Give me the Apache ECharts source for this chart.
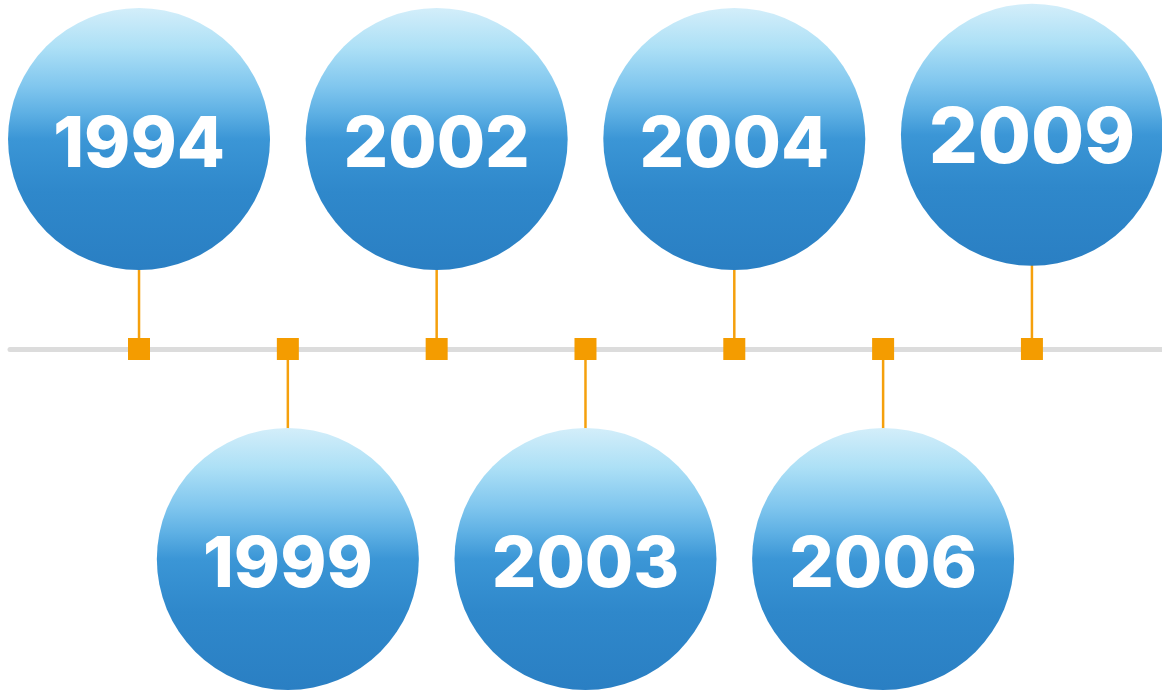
<!DOCTYPE html>
<html>
<head>
<meta charset="utf-8">
<style>
  html, body { margin: 0; padding: 0; background: #ffffff; }
  #chart { width: 1162px; height: 690px; }
</style>
<script src="https://cdn.jsdelivr.net/npm/echarts@6/dist/echarts.min.js"></script>
</head>
<body>
<div id="chart"></div>
<script>
// Timeline data
var years = ['1994', '1999', '2002', '2003', '2004', '2006', '2009'];
var steps = [0, 1, 2, 3, 4, 5, 6];           // position along the timeline
var levels = [1, -1, 1, -1, 1, -1, 1.02];     // +1 above the line, -1 below

// label style overrides (the last badge uses a slightly larger figure)
var labelOverrides = { '2009': { fontSize: 77, offset: [0, 5] } };

var chart = echarts.init(document.getElementById('chart'), null, { renderer: 'canvas' });

var circleFill = new echarts.graphic.LinearGradient(0, 0, 0, 1, [
  { offset: 0.00, color: '#d3eefa' },
  { offset: 0.15, color: '#ade0f6' },
  { offset: 0.30, color: '#80c6ee' },
  { offset: 0.40, color: '#5eb0e4' },
  { offset: 0.50, color: '#3b96d6' },
  { offset: 0.70, color: '#2f88cb' },
  { offset: 1.00, color: '#2a7fc3' }
]);

var points = steps.map(function (s, i) {
  var item = { value: [s, levels[i], years[i]] };
  if (labelOverrides[years[i]]) item.label = labelOverrides[years[i]];
  return item;
});
var anchors = steps.map(function (s) { return [s, 0]; });

var option = {
  animation: false,
  backgroundColor: '#ffffff',
  grid: { left: 10, right: 0, top: 139, bottom: 131 },
  xAxis: {
    type: 'value',
    min: -0.867,
    max: 6.874,
    axisLine: { show: true, onZero: true, lineStyle: { color: '#dcdcdc', width: 5 } },
    axisTick: { show: false },
    axisLabel: { show: false },
    splitLine: { show: false }
  },
  yAxis: {
    type: 'value',
    min: -1,
    max: 1,
    show: false,
    splitLine: { show: false }
  },
  series: [
    {
      type: 'custom',
      name: 'connectors',
      z: 2,
      clip: false,
      data: points.map(function (p) { return p.value; }),
      renderItem: function (params, api) {
        var a = api.coord([api.value(0), 0]);
        var b = api.coord([api.value(0), api.value(1)]);
        return {
          type: 'line',
          shape: { x1: a[0], y1: a[1], x2: b[0], y2: b[1] },
          style: { stroke: '#f5a00c', lineWidth: 2.5 }
        };
      }
    },
    {
      type: 'scatter',
      name: 'anchors',
      z: 3,
      symbol: 'rect',
      symbolSize: 22,
      itemStyle: { color: '#f49c00', opacity: 1 },
      emphasis: { disabled: true },
      data: anchors
    },
    {
      type: 'scatter',
      name: 'years',
      z: 4,
      clip: false,
      symbol: 'circle',
      symbolSize: 262,
      itemStyle: { color: circleFill, opacity: 1 },
      label: {
        show: true,
        position: 'inside',
        formatter: function (p) { return p.value[2]; },
        color: '#ffffff',
        fontFamily: 'Inter',
        fontWeight: 800,
        fontSize: 70,
        offset: [0, 7]
      },
      emphasis: { disabled: true },
      data: points
    }
  ]
};

chart.setOption(option);
</script>
</body>
</html>
